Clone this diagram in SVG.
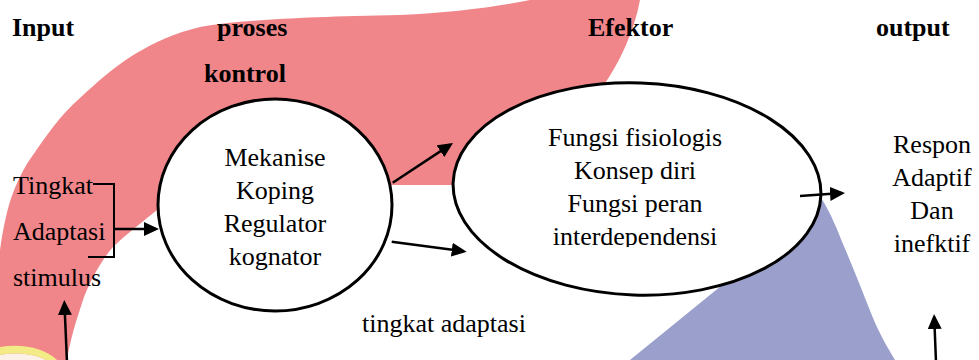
<svg xmlns="http://www.w3.org/2000/svg" width="979" height="360" viewBox="0 0 979 360">
  <defs>
    <style>
      text { font-family: "Liberation Serif", "Times New Roman", Times, "DejaVu Serif", serif; font-size: 26px; fill: #000; }
      .h { font-weight: bold; }
      .c { text-anchor: middle; }
      .node { fill: #fff; stroke: #000; stroke-width: 3; }
      .conn { fill: none; stroke: #000; stroke-width: 2.5; }
      .br { fill: none; stroke: #000; stroke-width: 2; }
    </style>
    <marker id="ah" viewBox="0 0 15 14" refX="12" refY="7" markerWidth="15" markerHeight="14" orient="auto" markerUnits="userSpaceOnUse">
      <path d="M0,0 L15,7 L0,14 Z" fill="#000"/>
    </marker>
    <clipPath id="clipE">
      <rect x="440" y="80" width="400" height="167"/>
    </clipPath>
  </defs>

  <rect width="979" height="360" fill="#fff"/>

  <!-- background bands -->
  <g id="background">
    <path id="red-band" fill="#f0868a" d="M0,360 L0,250 C3,228 8,205 13,193 C20,175 27,163 33,155 C45,138 60,115 80,98 C95,84 115,66 135,54 C155,42 175,33 200,27 C240,20 300,17 400,15 C450,13 500,6 530,0 L640,0 C634,32 620,62 602,88 L605,95 L500,150 L460,185 L390,185 L300,190 L165,208 L157,210 C145,220 125,235 113,247 C100,262 88,285 83,300 C77,318 70,340 67,360 Z"/>
    <path id="blue-band" fill="#9a9fcc" d="M630,360 L812,212 L818,195 L820,196 C832,215 838,232 843,244 C855,272 865,298 873,318 C880,335 888,348 895,360 Z"/>
    <path fill="#fbf1e6" d="M0,355 C18,352 35,354 46,360 L0,360 Z"/>
    <path fill="#f3ec86" d="M0,347 C22,343 45,348 57,360 L46,360 C35,354 18,352 0,355 Z"/>
  </g>

  <!-- header labels -->
  <g id="headers">
    <text class="h" x="12" y="36" font-family="Liberation Serif, serif">Input</text>
    <text class="h" x="217" y="36" font-family="Liberation Serif, serif">proses</text>
    <text class="h" x="204" y="82" font-family="Liberation Serif, serif">kontrol</text>
    <text class="h" x="588" y="36" font-family="Liberation Serif, serif">Efektor</text>
    <text class="h" x="876" y="36" font-family="Liberation Serif, serif">output</text>
  </g>

  <!-- input -->
  <g id="input">
    <text x="13" y="194">Tingkat</text>
    <text x="13" y="240">Adaptasi</text>
    <text x="13" y="286">stimulus</text>
    <polyline class="br" points="93,184 114,184 114,257 88,257"/>
  </g>

  <!-- control process -->
  <g id="kontrol">
    <ellipse class="node" cx="275" cy="205" rx="117" ry="106"/>
    <text class="c" x="275" y="166">Mekanise</text>
    <text class="c" x="275" y="199">Koping</text>
    <text class="c" x="275" y="232">Regulator</text>
    <text class="c" x="275" y="265">kognator</text>
  </g>

  <!-- effector -->
  <g id="efektor">
    <ellipse class="node" cx="637" cy="189" rx="184" ry="106" transform="rotate(2 637 189)"/>
    <g clip-path="url(#clipE)">
      <text class="c" x="635" y="146">Fungsi fisiologis</text>
      <text class="c" x="635" y="179">Konsep diri</text>
      <text class="c" x="635" y="212">Fungsi peran</text>
      <text class="c" x="635" y="245">interdependensi</text>
    </g>
  </g>

  <!-- output -->
  <g id="output">
    <text class="c" x="932" y="153">Respon</text>
    <text class="c" x="932" y="186">Adaptif</text>
    <text class="c" x="932" y="219">Dan</text>
    <text class="c" x="932" y="252">inefktif</text>
  </g>

  <!-- feedback label -->
  <g id="feedback">
    <text x="362" y="332">tingkat adaptasi</text>
  </g>

  <!-- connectors -->
  <g id="connectors">
    <line class="conn" x1="114" y1="229" x2="156" y2="229" marker-end="url(#ah)"/>
    <line class="conn" x1="67" y1="362" x2="64.4" y2="303" marker-end="url(#ah)"/>
    <line class="conn" x1="392.7" y1="182.7" x2="450.5" y2="144.6" marker-end="url(#ah)"/>
    <line class="conn" x1="391.7" y1="241.7" x2="463.7" y2="251.3" marker-end="url(#ah)"/>
    <line class="conn" x1="800" y1="196" x2="842" y2="193.1" marker-end="url(#ah)"/>
    <line class="conn" x1="936" y1="362" x2="934.2" y2="317" marker-end="url(#ah)"/>
  </g>
</svg>
